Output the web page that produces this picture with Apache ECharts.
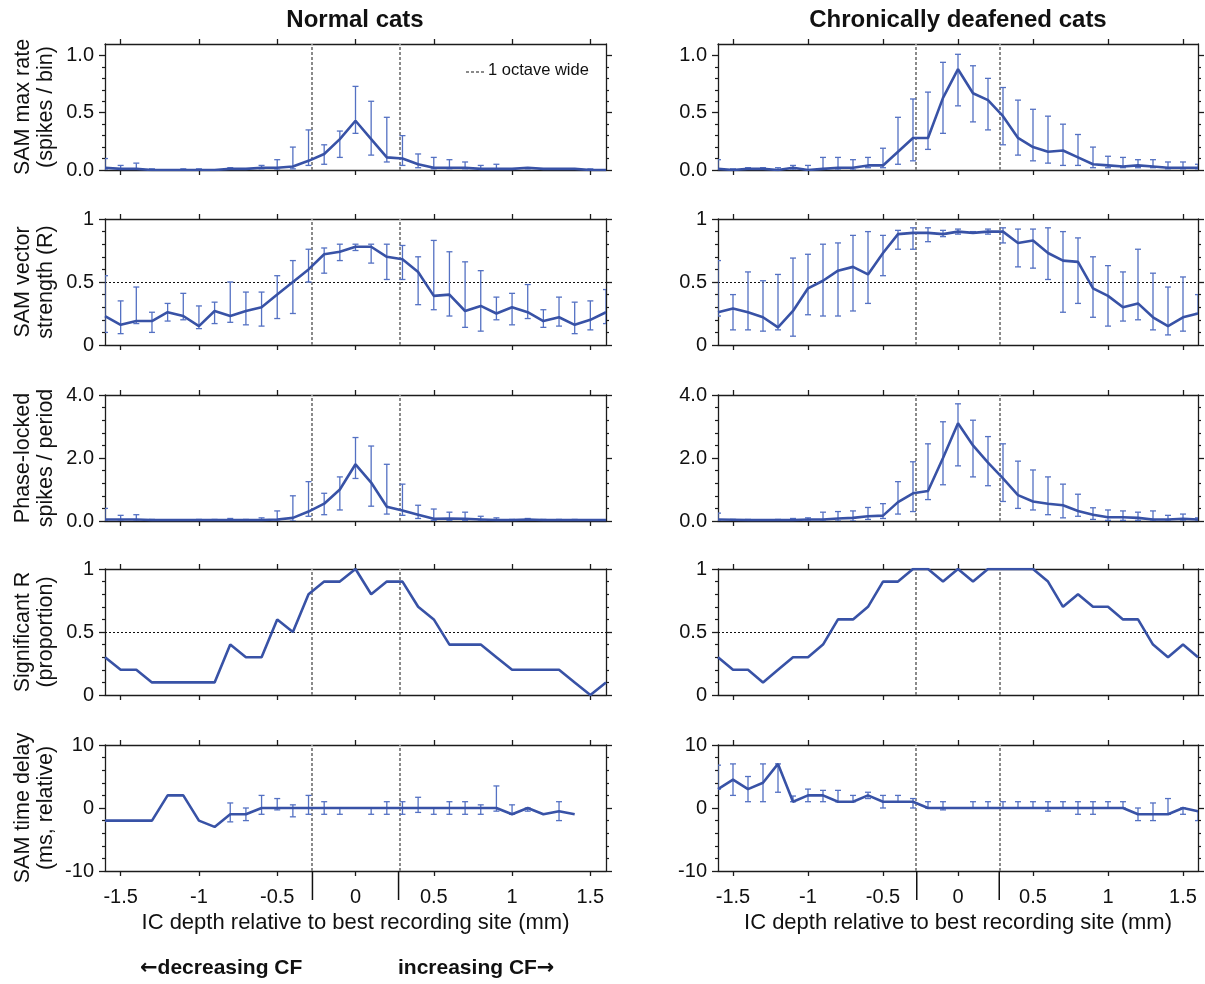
<!DOCTYPE html>
<html>
<head>
<meta charset="utf-8">
<script src="https://cdn.jsdelivr.net/npm/echarts@6/dist/echarts.min.js"></script>
<style>
  html, body { margin: 0; padding: 0; background: #ffffff; }
  #chart { width: 1205px; height: 984px; }
</style>
</head>
<body>
<div id="chart"></div>
<script>
// Recording depth (mm) relative to the best recording site
const depthMm = [-1.6,-1.5,-1.4,-1.3,-1.2,-1.1,-1.0,-0.9,-0.8,-0.7,-0.6,-0.5,-0.4,-0.3,-0.2,-0.1,0,
                 0.1,0.2,0.3,0.4,0.5,0.6,0.7,0.8,0.9,1.0,1.1,1.2,1.3,1.4,1.5,1.6];
// Edges of the 1-octave-wide band around the best site
const octaveEdges = [-0.275, 0.275];
const depthTicks = [-1.5, -1, -0.5, 0, 0.5, 1, 1.5];

// SAM max rate (spikes / bin)
const rateNormal   = [0.02,0.01,0.01,0.00,0.00,0.00,0.00,0.00,0.01,0.01,0.02,0.02,0.03,0.08,0.14,0.27,0.43,0.27,0.11,0.10,0.05,0.02,0.02,0.02,0.01,0.01,0.01,0.02,0.01,0.01,0.01,0.00,0.00];
const rateNormalLo = [0.00,0.00,0.00,0.00,null,0.00,0.00,null,0.00,0.00,0.01,0.00,0.01,0.04,0.05,0.11,0.32,0.13,0.07,0.04,0.02,0.01,0.01,0.01,0.00,0.00,0.00,0.01,null,0.00,null,0.00,null];
const rateNormalHi = [0.10,0.04,0.06,0.01,null,0.01,0.01,null,0.02,0.01,0.04,0.09,0.20,0.35,0.22,0.34,0.73,0.60,0.46,0.30,0.14,0.11,0.09,0.07,0.04,0.05,0.01,0.02,null,0.01,null,0.01,null];
const rateDeaf     = [0.01,0.00,0.01,0.01,0.00,0.02,0.00,0.01,0.02,0.02,0.04,0.04,0.16,0.28,0.28,0.63,0.88,0.67,0.61,0.47,0.28,0.20,0.16,0.17,0.11,0.05,0.04,0.03,0.04,0.03,0.02,0.02,0.02];
const rateDeafLo   = [0.00,0.00,0.00,0.00,0.00,0.00,0.00,0.00,0.00,0.00,0.02,0.02,0.05,0.08,0.18,0.32,0.56,0.42,0.35,0.22,0.13,0.08,0.06,0.04,0.04,0.02,0.02,0.02,0.02,0.02,0.01,0.01,0.01];
const rateDeafHi   = [0.09,0.01,0.02,0.02,0.02,0.04,0.04,0.11,0.11,0.09,0.11,0.19,0.46,0.62,0.68,0.94,1.01,0.91,0.80,0.72,0.61,0.53,0.47,0.40,0.31,0.20,0.12,0.11,0.09,0.09,0.07,0.07,0.05];

// SAM vector strength (R)
const vsNormal   = [0.23,0.16,0.19,0.19,0.26,0.23,0.15,0.27,0.23,0.27,0.30,0.40,0.50,0.60,0.72,0.74,0.78,0.78,0.70,0.68,0.58,0.39,0.40,0.27,0.31,0.25,0.30,0.26,0.19,0.22,0.16,0.20,0.26];
const vsNormalLo = [0.10,0.09,0.17,0.10,0.19,0.20,0.13,0.17,0.18,0.16,0.15,0.21,0.25,0.50,0.57,0.67,0.75,0.65,0.52,0.52,0.32,0.28,0.23,0.14,0.11,0.20,0.16,0.21,0.14,0.15,0.09,0.12,0.17];
const vsNormalHi = [0.55,0.35,0.46,0.26,0.33,0.41,0.31,0.34,0.50,0.42,0.42,0.55,0.67,0.76,0.77,0.80,0.80,0.80,0.80,0.79,0.70,0.83,0.74,0.66,0.59,0.38,0.41,0.48,0.28,0.38,0.34,0.35,0.44];
const vsDeaf     = [0.26,0.29,0.26,0.22,0.14,0.27,0.45,0.51,0.59,0.62,0.56,0.73,0.88,0.89,0.89,0.88,0.90,0.89,0.90,0.90,0.81,0.83,0.73,0.67,0.66,0.45,0.39,0.30,0.33,0.22,0.15,0.22,0.25];
const vsDeafLo   = [0.23,0.12,0.12,0.11,0.12,0.07,0.24,0.23,0.23,0.27,0.33,0.55,0.76,0.76,0.82,0.86,0.88,0.89,0.88,0.81,0.62,0.61,0.52,0.26,0.33,0.22,0.15,0.19,0.20,0.12,0.08,0.11,0.25];
const vsDeafHi   = [0.67,0.40,0.58,0.51,0.56,0.69,0.72,0.80,0.81,0.87,0.90,0.87,0.91,0.93,0.93,0.91,0.92,0.90,0.92,0.93,0.92,0.92,0.93,0.90,0.85,0.70,0.63,0.58,0.76,0.57,0.46,0.54,0.40];

// Phase-locked spikes / period
const plNormal   = [0.05,0.05,0.05,0.03,0.03,0.03,0.03,0.03,0.03,0.03,0.03,0.05,0.10,0.30,0.55,1.00,1.80,1.22,0.45,0.33,0.20,0.07,0.08,0.07,0.05,0.03,0.03,0.05,0.03,0.03,0.03,0.03,0.03];
const plNormalLo = [0.00,0.00,0.00,0.00,0.00,0.00,0.00,0.00,0.00,0.00,0.00,0.00,0.00,0.15,0.20,0.35,1.35,0.47,0.22,0.18,0.08,0.02,0.02,0.02,0.00,0.00,0.00,0.02,0.00,0.00,0.00,0.00,0.00];
const plNormalHi = [0.40,0.18,0.20,0.05,0.04,0.04,0.05,0.05,0.08,0.05,0.10,0.32,0.80,1.25,0.88,1.40,2.65,2.38,1.80,1.17,0.50,0.38,0.28,0.28,0.15,0.10,0.05,0.08,0.05,0.05,0.05,0.04,0.04];
const plDeaf     = [0.05,0.04,0.03,0.03,0.03,0.03,0.05,0.05,0.08,0.10,0.15,0.17,0.60,0.88,0.95,2.00,3.10,2.40,1.85,1.35,0.82,0.62,0.55,0.50,0.32,0.20,0.12,0.12,0.10,0.05,0.05,0.07,0.05];
const plDeafLo   = [0.00,0.00,0.00,0.00,0.00,0.00,0.00,0.00,0.00,0.00,0.05,0.08,0.22,0.30,0.68,1.15,1.75,1.40,1.12,0.62,0.40,0.35,0.20,0.10,0.15,0.05,0.02,0.02,0.02,0.00,0.00,0.00,0.00];
const plDeafHi   = [0.25,0.05,0.05,0.04,0.05,0.08,0.10,0.28,0.30,0.32,0.43,0.55,1.25,1.88,2.45,3.15,3.72,3.20,2.68,2.45,1.90,1.62,1.40,1.17,0.85,0.42,0.35,0.32,0.28,0.32,0.18,0.22,0.10];

// Proportion of sites with significant R
const sigNormal = [0.3,0.2,0.2,0.1,0.1,0.1,0.1,0.1,0.4,0.3,0.3,0.6,0.5,0.8,0.9,0.9,1.0,0.8,0.9,0.9,0.7,0.6,0.4,0.4,0.4,0.3,0.2,0.2,0.2,0.2,0.1,0.0,0.1];
const sigDeaf   = [0.3,0.2,0.2,0.1,0.2,0.3,0.3,0.4,0.6,0.6,0.7,0.9,0.9,1.0,1.0,0.9,1.0,0.9,1.0,1.0,1.0,1.0,0.9,0.7,0.8,0.7,0.7,0.6,0.6,0.4,0.3,0.4,0.3];

// SAM time delay (ms, relative)
const delayNormal   = [-2,-2,-2,-2,2,2,-2,-3,-1,-1,0,0,0,0,0,0,0,0,0,0,0,0,0,0,0,0,-1,0,-1,-0.5,-1,null,null];
const delayNormalLo = [null,null,null,null,null,null,null,null,-2.2,-2,-1,-0.3,-1.4,-1,-1,-1,null,-1,-1,-1,-0.7,-1,-1,-1,-1,-0.5,-1,-0.5,null,-2,null,null,null];
const delayNormalHi = [null,null,null,null,null,null,null,null,0.8,0,2,1.5,0.5,2,1,0,null,0,1,1,1.7,0,1,1,0.5,3.5,0.5,0,null,1,null,null,null];
const delayDeaf     = [3,4.5,3,4,7,1,2,2,1,1,2,1,1,1,0,0,0,0,0,0,0,0,0,0,0,0,0,0,-1,-1,-1,0,-0.5];
const delayDeafLo   = [3,2,1,1,2.5,1,1,1,1,1,1.5,0,1,0,0,-0.3,null,0,0,0,0,0,-0.5,0,-1,-1,0,0,-2,-2,-1,-1,-2];
const delayDeafHi   = [6.8,7,5,7,7,1.9,3,2.8,2.8,2,2.5,2,2,1.5,1,1,null,1,1,1,1,1,1,1,1,1,1,1,0,0.8,1.5,0,-0.5];

// Y scales for each row
const rowMin = [0, 0, 0, 0, -10];
const rowMax = [1.1, 1, 4, 1, 10];
const rowMajorTicks = [[0,0.5,1], [0,0.5,1], [0,2,4], [0,0.5,1], [-10,0,10]];
const rowMinorTicks = [
  [0.1,0.2,0.3,0.4,0.6,0.7,0.8,0.9],
  [0.1,0.2,0.3,0.4,0.6,0.7,0.8,0.9],
  [0.4,0.8,1.2,1.6,2.4,2.8,3.2,3.6],
  [0.1,0.2,0.3,0.4,0.6,0.7,0.8,0.9],
  [-8,-6,-4,-2,2,4,6,8]
];
const rowLabelDigits = [1, null, 1, null, null];
const rowNames = [
  'SAM max rate\n(spikes / bin)',
  'SAM vector\nstrength (R)',
  'Phase-locked\nspikes / period',
  'Significant R\n(proportion)',
  'SAM time delay\n(ms, relative)'
];
const rowReference = [null, 0.5, null, 0.5, null];

const columnTitles = ['Normal cats', 'Chronically deafened cats'];
const depthAxisName = 'IC depth relative to best recording site (mm)';

const rowSeries = [
  [[rateNormal, rateNormalLo, rateNormalHi], [rateDeaf, rateDeafLo, rateDeafHi]],
  [[vsNormal, vsNormalLo, vsNormalHi], [vsDeaf, vsDeafLo, vsDeafHi]],
  [[plNormal, plNormalLo, plNormalHi], [plDeaf, plDeafLo, plDeafHi]],
  [[sigNormal, null, null], [sigDeaf, null, null]],
  [[delayNormal, delayNormalLo, delayNormalHi], [delayDeaf, delayDeafLo, delayDeafHi]]
];

const FONT = '"Liberation Sans", Arial, Helvetica, sans-serif';
const ARROW_FONT = '"DejaVu Sans", sans-serif';
const LINE_COLOR = '#3852a6';
const BAR_COLOR = '#5471c3';
const AXIS_COLOR = '#1c1c1c';

const colLeft = [105, 718];
const colWidth = [501, 480];
const rowTop = [44, 219, 395, 569, 745];
const rowHeight = 126;

const grids = [], xAxes = [], yAxes = [], series = [];

function fmt(v, digits) {
  return digits == null ? String(v) : v.toFixed(digits);
}

for (let r = 0; r < 5; r++) {
  for (let c = 0; c < 2; c++) {
    const g = grids.length;
    grids.push({ left: colLeft[c], top: rowTop[r], width: colWidth[c], height: rowHeight });
    const isBottom = r === 4;
    const axisLine = { show: true, onZero: false, lineStyle: { color: AXIS_COLOR, width: 1.3 } };

    const xBottom = xAxes.length;
    xAxes.push({
      type: 'value', gridIndex: g, position: 'bottom', min: -1.6, max: 1.6,
      axisLine, splitLine: { show: false },
      axisTick: { show: true, length: 5, customValues: depthTicks, lineStyle: { color: AXIS_COLOR, width: 1.3 } },
      axisLabel: {
        show: isBottom, customValues: depthTicks, margin: 16,
        fontFamily: FONT, fontSize: 20, color: '#111',
        formatter: v => String(v)
      },
      name: isBottom ? depthAxisName : '',
      nameLocation: 'middle', nameGap: 41,
      nameTextStyle: { fontFamily: FONT, fontSize: 22, color: '#111' }
    });
    xAxes.push({
      type: 'value', gridIndex: g, position: 'top', min: -1.6, max: 1.6,
      axisLine, splitLine: { show: false },
      axisTick: { show: true, length: 5, customValues: depthTicks, lineStyle: { color: AXIS_COLOR, width: 1.3 } },
      axisLabel: { show: false }
    });

    const yLeft = yAxes.length;
    const digits = rowLabelDigits[r];
    yAxes.push({
      type: 'value', gridIndex: g, position: 'left', min: rowMin[r], max: rowMax[r],
      axisLine, splitLine: { show: false },
      axisTick: { show: true, length: 6, customValues: rowMajorTicks[r], lineStyle: { color: AXIS_COLOR, width: 1.3 } },
      axisLabel: {
        show: true, customValues: rowMajorTicks[r], margin: 11,
        fontFamily: FONT, fontSize: 20, color: '#111',
        formatter: v => fmt(v, digits)
      },
      name: c === 0 ? rowNames[r] : '',
      nameLocation: 'middle', nameGap: 47, nameRotate: 90,
      nameTextStyle: { fontFamily: FONT, fontSize: 21.5, color: '#111', lineHeight: 23 }
    });
    ['left', 'right'].forEach(side => {
      if (side === 'right') {
        yAxes.push({
          type: 'value', gridIndex: g, position: 'right', min: rowMin[r], max: rowMax[r],
          axisLine, splitLine: { show: false },
          axisTick: { show: true, length: 6, customValues: rowMajorTicks[r], lineStyle: { color: AXIS_COLOR, width: 1.3 } },
          axisLabel: { show: false }
        });
      }
      yAxes.push({
        type: 'value', gridIndex: g, position: side, min: rowMin[r], max: rowMax[r],
        axisLine: { show: false, onZero: false }, splitLine: { show: false },
        axisTick: { show: true, length: 3, customValues: rowMinorTicks[r], lineStyle: { color: AXIS_COLOR, width: 1.2 } },
        axisLabel: { show: false }
      });
    });

    const [mean, lo, hi] = rowSeries[r][c];

    // octave band edges and the 0.5 reference line
    const markData = octaveEdges.map(x => ({
      xAxis: x, lineStyle: { color: '#8a8a8a', type: [3, 2], width: 2 }
    }));
    if (rowReference[r] != null) {
      markData.push({ yAxis: rowReference[r], lineStyle: { color: '#111', type: [2, 2], width: 1 } });
    }

    if (lo) {
      const barData = [];
      depthMm.forEach((x, i) => {
        if (lo[i] != null && hi[i] != null) barData.push([x, lo[i], hi[i]]);
      });
      series.push({
        type: 'custom', xAxisIndex: xBottom, yAxisIndex: yLeft, clip: true, z: 3,
        silent: true, data: barData,
        encode: { x: 0, y: [1, 2] },
        renderItem: (params, api) => {
          const x = api.value(0);
          const pLo = api.coord([x, api.value(1)]);
          const pHi = api.coord([x, api.value(2)]);
          const w = 3;
          const style = { stroke: BAR_COLOR, lineWidth: 1.3 };
          return {
            type: 'group', children: [
              { type: 'line', shape: { x1: pLo[0], y1: pLo[1], x2: pHi[0], y2: pHi[1] }, style },
              { type: 'line', shape: { x1: pHi[0] - w, y1: pHi[1], x2: pHi[0] + w, y2: pHi[1] }, style },
              { type: 'line', shape: { x1: pLo[0] - w, y1: pLo[1], x2: pLo[0] + w, y2: pLo[1] }, style }
            ]
          };
        }
      });
    }

    series.push({
      type: 'line', xAxisIndex: xBottom, yAxisIndex: yLeft, z: 4,
      data: depthMm.map((x, i) => [x, mean[i]]),
      showSymbol: false, connectNulls: false, silent: true,
      lineStyle: { color: LINE_COLOR, width: 2.6 },
      markLine: { silent: true, symbol: 'none', label: { show: false }, data: markData, z: 2 }
    });

    if (isBottom) {
      // octave edge markers below the depth axis
      series.push({
        type: 'custom', xAxisIndex: xBottom, yAxisIndex: yLeft, clip: false, silent: true,
        data: octaveEdges.map(x => [x, rowMin[r]]),
        renderItem: (params, api) => {
          const p = api.coord([api.value(0), api.value(1)]);
          return { type: 'line', shape: { x1: p[0], y1: p[1], x2: p[0], y2: p[1] + 29 },
                   style: { stroke: '#111', lineWidth: 1.5 } };
        }
      });
    }
  }
}

const chart = echarts.init(document.getElementById('chart'), null, { renderer: 'canvas' });
chart.setOption({
  animation: false,
  backgroundColor: '#ffffff',
  grid: grids,
  xAxis: xAxes,
  yAxis: yAxes,
  series: series,
  graphic: [
    { type: 'text', x: 355, y: 8, style: { text: columnTitles[0], font: 'bold 24px ' + FONT, fill: '#111', textAlign: 'center' } },
    { type: 'text', x: 958, y: 8, style: { text: columnTitles[1], font: 'bold 24px ' + FONT, fill: '#111', textAlign: 'center' } },
    { type: 'line', shape: { x1: 466, y1: 72, x2: 485, y2: 72 }, style: { stroke: '#8a8a8a', lineWidth: 2, lineDash: [3, 2] } },
    { type: 'text', x: 488, y: 62, style: { text: '1 octave wide', font: '16.5px ' + FONT, fill: '#111' } },
    {
      type: 'text', x: 140, y: 958,
      style: {
        text: '{a|\u2190}{t|decreasing CF}',
        rich: {
          a: { fontFamily: ARROW_FONT, fontWeight: 'bold', fontSize: 21, fill: '#111' },
          t: { fontFamily: FONT, fontWeight: 'bold', fontSize: 21, fill: '#111' }
        }
      }
    },
    {
      type: 'text', x: 398, y: 958,
      style: {
        text: '{t|increasing CF}{a|\u2192}',
        rich: {
          a: { fontFamily: ARROW_FONT, fontWeight: 'bold', fontSize: 21, fill: '#111' },
          t: { fontFamily: FONT, fontWeight: 'bold', fontSize: 21, fill: '#111' }
        }
      }
    }
  ]
});
</script>
</body>
</html>
